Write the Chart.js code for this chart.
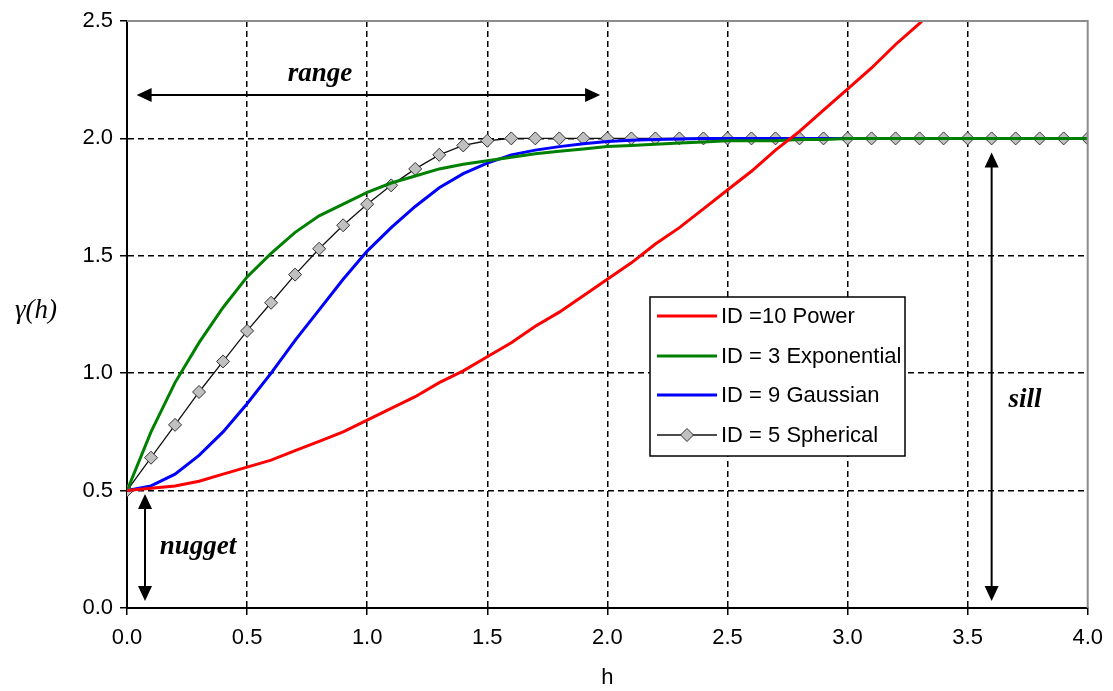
<!DOCTYPE html>
<html>
<head>
<meta charset="utf-8">
<script src="https://cdn.jsdelivr.net/npm/chart.js@4"></script>
<style>
  body { margin: 0; background: #fff; }
</style>
</head>
<body>
<canvas id="myChart" width="1113" height="691"></canvas>
<script>
// lag distances h (step 0.1)
const hValues = [0.0, 0.1, 0.2, 0.3, 0.4, 0.5, 0.6, 0.7, 0.8, 0.9,
                 1.0, 1.1, 1.2, 1.3, 1.4, 1.5, 1.6, 1.7, 1.8, 1.9,
                 2.0, 2.1, 2.2, 2.3, 2.4, 2.5, 2.6, 2.7, 2.8, 2.9,
                 3.0, 3.1, 3.2, 3.3, 3.4, 3.5, 3.6, 3.7, 3.8, 3.9, 4.0];

// variogram values
const powerValues = [0.50, 0.51, 0.52, 0.54, 0.57, 0.60, 0.63, 0.67, 0.71, 0.75,
                     0.80, 0.85, 0.90, 0.96, 1.01, 1.07, 1.13, 1.20, 1.26, 1.33,
                     1.40, 1.47, 1.55, 1.62, 1.70, 1.78, 1.86, 1.95, 2.03, 2.12,
                     2.21, 2.30, 2.40, 2.49, 2.59, 2.69, 2.79, 2.89, 2.99, 3.09, 3.20];
const exponentialValues = [0.50, 0.75, 0.96, 1.13, 1.28, 1.41, 1.51, 1.60, 1.67, 1.72,
                           1.77, 1.81, 1.84, 1.87, 1.89, 1.905, 1.92, 1.935, 1.945, 1.955,
                           1.965, 1.97, 1.975, 1.98, 1.985, 1.99, 1.99, 1.99, 1.995, 1.995,
                           2.0, 2.0, 2.0, 2.0, 2.0, 2.0, 2.0, 2.0, 2.0, 2.0, 2.0];
const gaussianValues = [0.50, 0.52, 0.57, 0.65, 0.75, 0.87, 1.00, 1.14, 1.27, 1.40,
                        1.52, 1.62, 1.71, 1.79, 1.85, 1.895, 1.93, 1.95, 1.965, 1.977,
                        1.987, 1.992, 1.995, 1.997, 2.0, 2.0, 2.0, 2.0, 2.0, 2.0,
                        2.0, 2.0, 2.0, 2.0, 2.0, 2.0, 2.0, 2.0, 2.0, 2.0, 2.0];
const sphericalValues = [0.50, 0.64, 0.78, 0.92, 1.05, 1.18, 1.30, 1.42, 1.53, 1.63,
                         1.72, 1.80, 1.87, 1.93, 1.97, 1.99, 2.0, 2.0, 2.0, 2.0,
                         2.0, 2.0, 2.0, 2.0, 2.0, 2.0, 2.0, 2.0, 2.0, 2.0,
                         2.0, 2.0, 2.0, 2.0, 2.0, 2.0, 2.0, 2.0, 2.0, 2.0, 2.0];

const seriesLabels = ['ID =10 Power', 'ID = 3 Exponential', 'ID = 9 Gaussian', 'ID = 5 Spherical'];

// axis ticks
const xTicks = [0.0, 0.5, 1.0, 1.5, 2.0, 2.5, 3.0, 3.5, 4.0];
const yTicks = [0.0, 0.5, 1.0, 1.5, 2.0, 2.5];

const toPoints = vals => hValues.map((h, i) => ({ x: h, y: vals[i] }));

const lineSet = (label, vals, color) => ({
    label: label,
    data: toPoints(vals),
    borderColor: color,
    backgroundColor: color,
    borderWidth: 3,
    pointRadius: 0,
    tension: 0
});

const chartData = {
    datasets: [
        lineSet(seriesLabels[0], powerValues, '#ff0000'),
        lineSet(seriesLabels[1], exponentialValues, '#008000'),
        lineSet(seriesLabels[2], gaussianValues, '#0000ff'),
        {
            label: seriesLabels[3],
            data: toPoints(sphericalValues),
            borderColor: '#111111',
            borderWidth: 1.3,
            pointStyle: 'rectRot',
            pointRadius: 6.5,
            pointBackgroundColor: '#c0c0c0',
            pointBorderColor: '#333333',
            pointBorderWidth: 1,
            tension: 0
        }
    ]
};

function arrowHead(ctx, x, y, dx, dy) {
    // dx,dy: unit direction the arrow points to
    const len = 15, half = 7;
    ctx.beginPath();
    ctx.moveTo(x, y);
    ctx.lineTo(x - dx * len - dy * half, y - dy * len + dx * half);
    ctx.lineTo(x - dx * len + dy * half, y - dy * len - dx * half);
    ctx.closePath();
    ctx.fill();
}

function doubleArrow(ctx, x1, y1, x2, y2) {
    const d = Math.hypot(x2 - x1, y2 - y1);
    const dx = (x2 - x1) / d, dy = (y2 - y1) / d;
    ctx.beginPath();
    ctx.moveTo(x1 + dx * 10, y1 + dy * 10);
    ctx.lineTo(x2 - dx * 10, y2 - dy * 10);
    ctx.stroke();
    arrowHead(ctx, x2, y2, dx, dy);
    arrowHead(ctx, x1, y1, -dx, -dy);
}

const extras = {
    id: 'extras',
    afterDraw(chart) {
        const ctx = chart.ctx;
        const { left, right, top, bottom } = chart.chartArea;
        const xs = chart.scales.x, ys = chart.scales.y;
        ctx.save();

        // plot frame top / right
        ctx.strokeStyle = '#8c8c8c';
        ctx.lineWidth = 2;
        ctx.beginPath();
        ctx.moveTo(left, top);
        ctx.lineTo(right, top);
        ctx.lineTo(right, bottom);
        ctx.stroke();

        // axis titles
        ctx.fillStyle = '#000';
        ctx.textAlign = 'center';
        ctx.textBaseline = 'middle';
        ctx.font = 'italic 27px "Liberation Serif"';
        ctx.fillText('\u03b3(h)', 36, 311);
        ctx.font = '22px "Liberation Sans"';
        ctx.fillText('h', xs.getPixelForValue(2.0), 678);

        // annotations
        ctx.strokeStyle = '#000';
        ctx.lineWidth = 2;
        ctx.font = 'bold italic 27px "Liberation Serif"';
        doubleArrow(ctx, xs.getPixelForValue(0.04), ys.getPixelForValue(2.185),
                         xs.getPixelForValue(1.97), ys.getPixelForValue(2.185));
        ctx.fillText('range', 320, 74);
        doubleArrow(ctx, xs.getPixelForValue(0.075), ys.getPixelForValue(0.485),
                         xs.getPixelForValue(0.075), ys.getPixelForValue(0.03));
        ctx.fillText('nugget', 198, 547);
        doubleArrow(ctx, xs.getPixelForValue(3.6), ys.getPixelForValue(1.94),
                         xs.getPixelForValue(3.6), ys.getPixelForValue(0.03));
        ctx.fillText('sill', 1025, 400);

        // legend
        const lx = 650, ly = 297, lw = 255, lh = 159;
        ctx.fillStyle = '#fff';
        ctx.fillRect(lx, ly, lw, lh);
        ctx.lineWidth = 1.5;
        ctx.strokeStyle = '#000';
        ctx.strokeRect(lx, ly, lw, lh);
        const rows = [316, 356, 395, 435];
        ctx.font = '22px "Liberation Sans"';
        ctx.textAlign = 'left';
        chart.data.datasets.forEach((ds, i) => {
            const y = rows[i];
            ctx.strokeStyle = ds.borderColor;
            ctx.lineWidth = ds.borderWidth;
            ctx.beginPath();
            ctx.moveTo(657, y);
            ctx.lineTo(717, y);
            ctx.stroke();
            if (ds.pointStyle) {
                ctx.fillStyle = ds.pointBackgroundColor;
                ctx.strokeStyle = ds.pointBorderColor;
                ctx.lineWidth = 1;
                ctx.beginPath();
                ctx.moveTo(687 - 6.5, y);
                ctx.lineTo(687, y - 6.5);
                ctx.lineTo(687 + 6.5, y);
                ctx.lineTo(687, y + 6.5);
                ctx.closePath();
                ctx.fill();
                ctx.stroke();
            }
            ctx.fillStyle = '#000';
            ctx.fillText(ds.label, 721, y + 1);
        });
        ctx.restore();
    }
};

const gridColor = (ctx, last) => (ctx.tick && ctx.tick.value === last) ? 'rgba(0,0,0,0)' : '#000';

const config = {
    type: 'line',
    data: chartData,
    options: {
        responsive: false,
        animation: false,
        layout: { padding: { top: 21, right: 23, left: 0, bottom: 0 } },
        plugins: { legend: { display: false }, tooltip: { enabled: false } },
        scales: {
            x: {
                type: 'linear',
                min: 0, max: 4,
                afterFit: scale => { scale.height = 83; },
                afterBuildTicks: scale => { scale.ticks = xTicks.map(v => ({ value: v })); },
                ticks: {
                    color: '#000',
                    padding: 10,
                    font: { family: '"Liberation Sans"', size: 22 },
                    callback: v => v.toFixed(1)
                },
                grid: {
                    color: c => gridColor(c, 4),
                    lineWidth: 1.5,
                    tickColor: '#000',
                    tickLength: 7
                },
                border: { display: true, color: '#000', width: 2, dash: [6, 4] }
            },
            y: {
                min: 0, max: 2.5,
                afterFit: scale => { scale.width = 127; },
                afterBuildTicks: scale => { scale.ticks = yTicks.map(v => ({ value: v })); },
                ticks: {
                    color: '#000',
                    padding: 7,
                    font: { family: '"Liberation Sans"', size: 22 },
                    callback: v => v.toFixed(1)
                },
                grid: {
                    color: c => gridColor(c, 2.5),
                    lineWidth: 1.5,
                    tickColor: '#000',
                    tickLength: 7
                },
                border: { display: true, color: '#000', width: 2, dash: [6, 4] }
            }
        }
    },
    plugins: [extras]
};

const myChart = new Chart(document.getElementById('myChart'), config);
</script>
</body>
</html>
